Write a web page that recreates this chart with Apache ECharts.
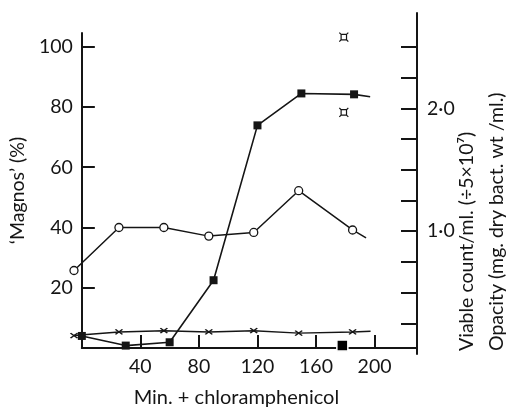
<!DOCTYPE html>
<html>
<head>
<meta charset="utf-8">
<script src="https://cdn.jsdelivr.net/npm/echarts@6/dist/echarts.min.js"></script>
<style>
  html, body { margin: 0; padding: 0; background: #fff; }
  #chart { width: 508px; height: 413px; }
</style>
</head>
<body>
<div id="chart"></div>
<script>
// sampling times (min after chloramphenicol)
const minutes = [0, 30, 60, 90, 120, 150, 186];
// 'Magnos' (%) - filled squares, left axis
const magnosPct = [4.0, 0.8, 1.9, 22.5, 73.9, 84.5, 84.2];
// opacity - open circles, right axis
const opacity = [0.68, 1.03, 1.03, 0.96, 0.99, 1.33, 1.01];
// viable count - crosses, right axis
const viable = [0.15, 0.18, 0.19, 0.18, 0.19, 0.17, 0.18];
// where each hand drawn line runs out past its last point [min, value]
const magnosTail = [197, 83.4];
const opacityTail = [195, 0.945];
const viableTail = [198, 0.186];
// odd points drawn at ~180 min
const oddMinutes = [179, 179];
const oddMagnos = [103.2, 78.2];
const bigSquare = [178, 0.8];

// tick labels
const xTicks = [40, 80, 120, 160, 200];
const leftTicks = [20, 40, 60, 80, 100];
const rightTicks = [0.25, 0.5, 0.75, 1.0, 1.25, 1.5, 1.75, 2.0, 2.25, 2.5];
const rightLabels = [1.0, 2.0];

const FONT = 'Lato';
const INK = '#151515';

function withTail(xs, ys, tail) {
  const pts = xs.map((x, i) => [x, ys[i]]);
  pts.push({ value: tail, symbol: 'none' });
  return pts;
}

const chart = echarts.init(document.getElementById('chart'));
chart.setOption({
  animation: false,
  backgroundColor: '#fff',
  grid: [
    { left: 74, right: 91, top: 33, bottom: 59 },
    { left: 74, right: 91, top: 13, bottom: 59 }
  ],
  xAxis: [
    {
      type: 'value', gridIndex: 0, min: 0, max: 229,
      name: 'Min. + chloramphenicol',
      nameLocation: 'middle', nameGap: 40,
      nameTextStyle: { fontFamily: FONT, fontSize: 20, color: INK, padding: [0, 26, 0, 0] },
      axisLine: { onZero: false, lineStyle: { color: INK, width: 2 } },
      axisTick: { inside: true, length: 13, customValues: xTicks, lineStyle: { color: INK, width: 2 } },
      axisLabel: { customValues: xTicks, margin: 9, fontFamily: FONT, fontSize: 19.5, color: INK },
      splitLine: { show: false }
    },
    {
      type: 'value', gridIndex: 1, min: 0, max: 229, show: false
    }
  ],
  yAxis: [
    {
      type: 'value', gridIndex: 0, position: 'left', min: 0, max: 104.56,
      name: '\u2018Magnos\u2019 (%)',
      nameLocation: 'middle', nameGap: 38, nameRotate: 90,
      nameTextStyle: { fontFamily: FONT, fontSize: 19.5, color: INK },
      axisLine: { show: true, onZero: false, lineStyle: { color: INK, width: 2 } },
      axisTick: { show: true, inside: true, length: 13, customValues: leftTicks, lineStyle: { color: INK, width: 2 } },
      axisLabel: { customValues: leftTicks, margin: 9, fontFamily: FONT, fontSize: 19.5, color: INK },
      splitLine: { show: false }
    },
    {
      type: 'value', gridIndex: 1, position: 'right', min: 0, max: 2.777,
      axisLine: { show: true, onZero: false, lineStyle: { color: INK, width: 2 } },
      axisTick: { show: true, inside: true, length: 16, customValues: rightTicks, lineStyle: { color: INK, width: 2 } },
      axisLabel: {
        customValues: rightLabels, margin: 10, fontFamily: FONT, fontSize: 19.5, color: INK,
        formatter: v => v.toFixed(1).replace('.', '\u00b7')
      },
      splitLine: { show: false }
    }
  ],
  graphic: [
    {
      type: 'text', x: 482, y: 351, rotation: Math.PI / 2,
      style: {
        text: 'Viable count/ml. (\u00f75\u00d710\u2077)\nOpacity (mg. dry bact. wt /ml.)',
        fontFamily: FONT, fontSize: 19.5, fill: INK,
        align: 'left', verticalAlign: 'middle', lineHeight: 30
      }
    }
  ],
  series: [
    {
      name: 'Magnos', type: 'line', xAxisIndex: 0, yAxisIndex: 0,
      data: withTail(minutes, magnosPct, magnosTail),
      symbol: 'rect', symbolSize: 8,
      itemStyle: { color: INK },
      lineStyle: { color: INK, width: 1.6 },
      z: 4
    },
    {
      name: 'Opacity', type: 'line', xAxisIndex: 1, yAxisIndex: 1,
      data: withTail(minutes, opacity, opacityTail),
      symbol: 'circle', symbolSize: 8, showAllSymbol: true,
      itemStyle: { color: '#fff', borderColor: INK, borderWidth: 1.3 },
      lineStyle: { color: INK, width: 1.5 },
      z: 4
    },
    {
      name: 'Viable count', type: 'line', xAxisIndex: 1, yAxisIndex: 1,
      data: withTail(minutes, viable, viableTail),
      symbol: 'path://M0,0L10,7M10,0L0,7', symbolSize: [7, 5],
      itemStyle: { color: 'none', borderColor: INK, borderWidth: 1.5 },
      lineStyle: { color: INK, width: 1.5 },
      z: 3
    },
    {
      name: 'odd', type: 'scatter', xAxisIndex: 0, yAxisIndex: 0,
      data: oddMinutes.map((x, i) => [x, oddMagnos[i]]),
      symbol: 'path://M2,2H8V8H2Z M0,0L2,2 M10,0L8,2 M10,10L8,8 M0,10L2,8', symbolSize: 9,
      itemStyle: { color: '#fff', borderColor: INK, borderWidth: 1.2, opacity: 1 },
      z: 4
    },
    {
      name: 'big', type: 'scatter', xAxisIndex: 0, yAxisIndex: 0,
      data: [bigSquare],
      symbol: 'rect', symbolSize: 11,
      itemStyle: { color: '#000', borderColor: '#fff', borderWidth: 1.5, opacity: 1 },
      z: 5
    }
  ]
});
</script>
</body>
</html>
